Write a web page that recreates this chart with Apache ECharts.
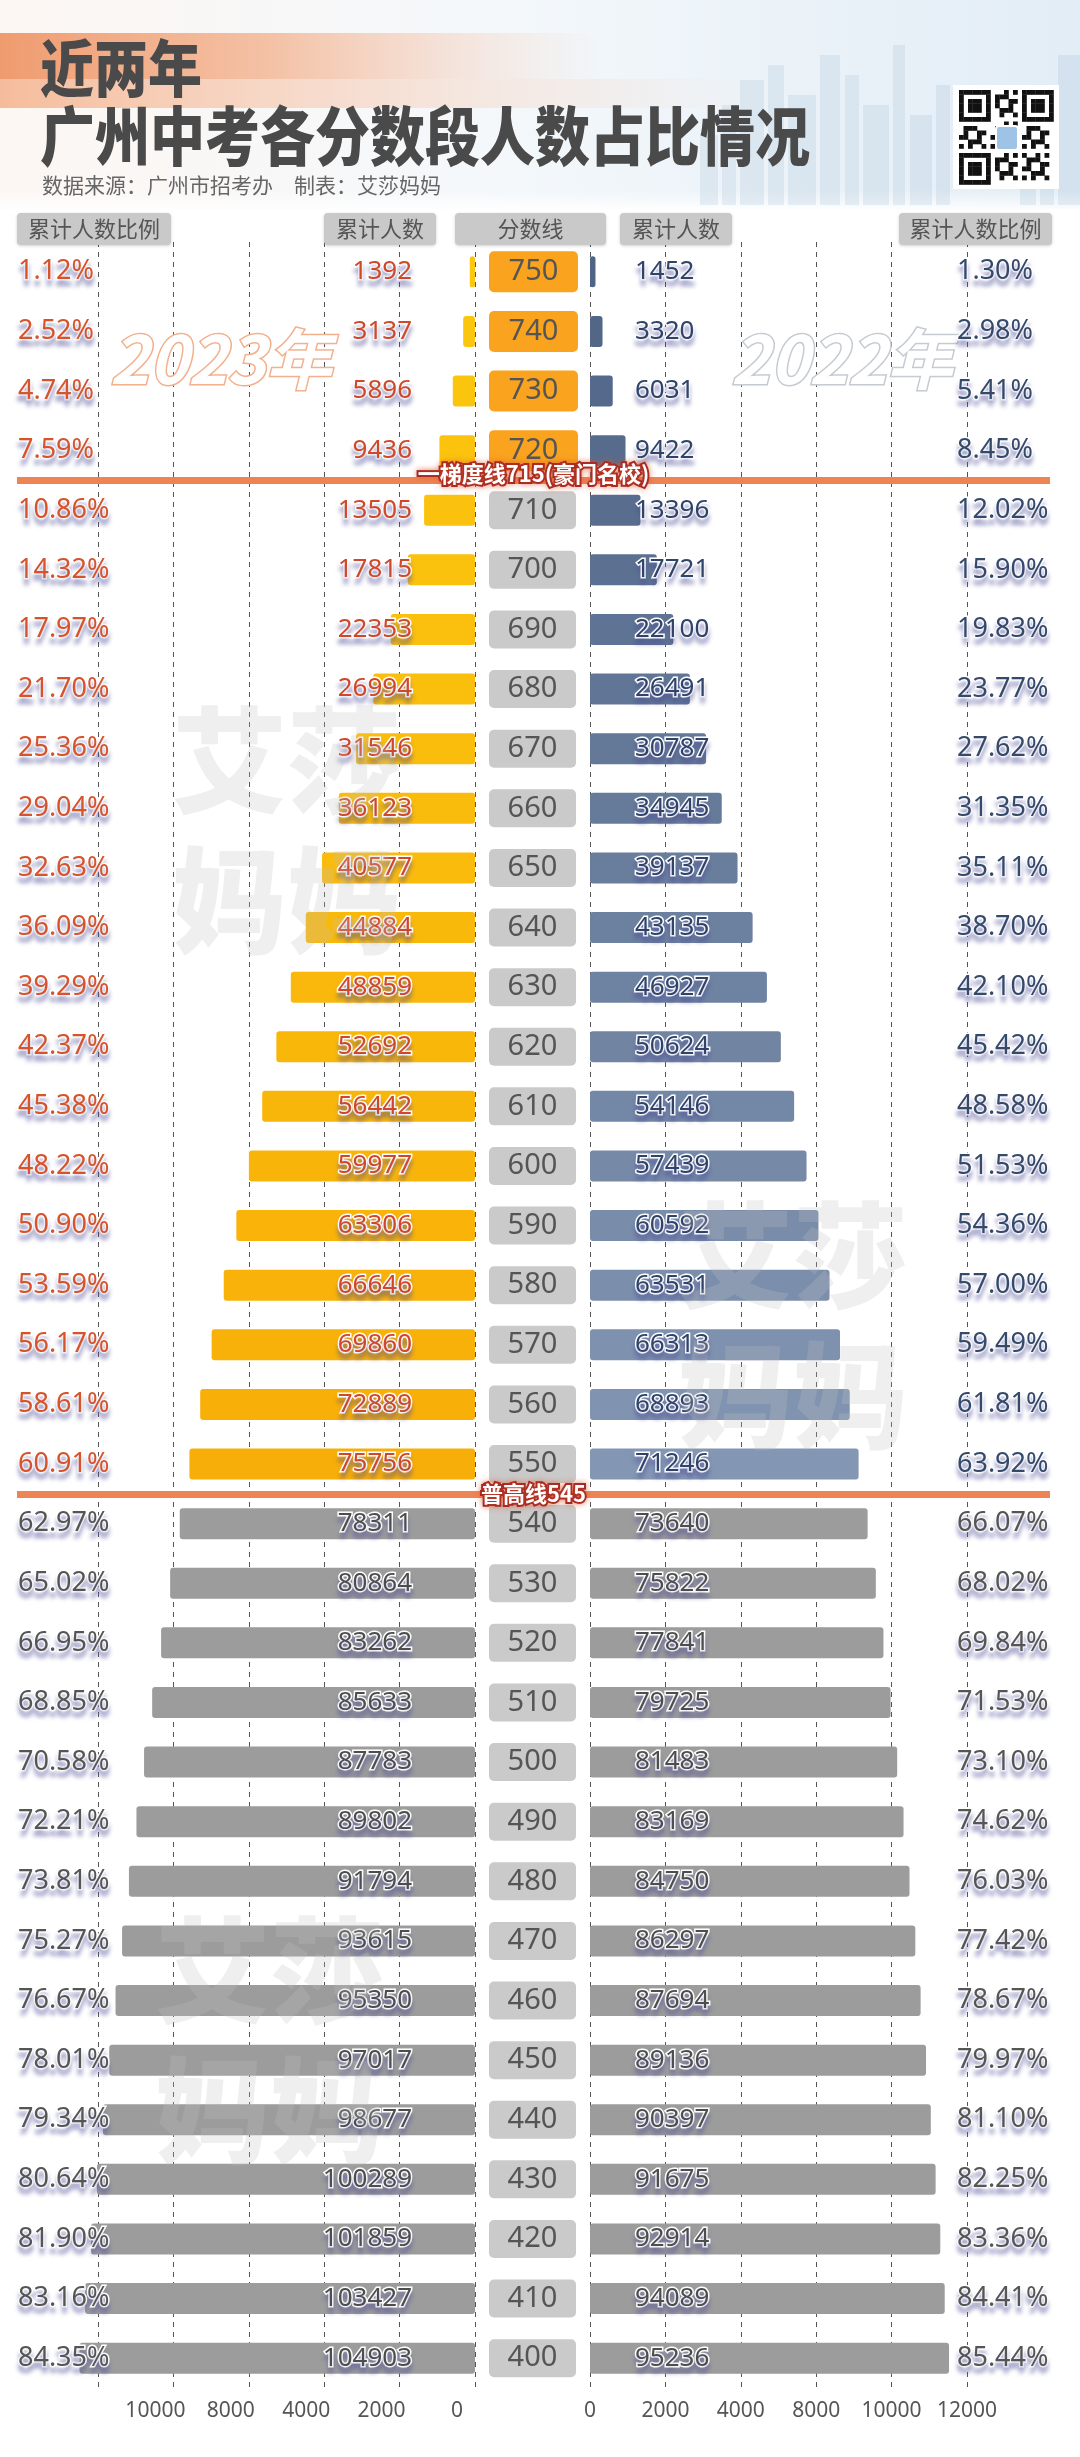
<!DOCTYPE html>
<html><head><meta charset="utf-8">
<script src="https://cdn.jsdelivr.net/npm/echarts@6/dist/echarts.min.js"></script>
<style>html,body{margin:0;padding:0;background:#fff;}#c{width:1080px;height:2457px;}</style>
</head><body><div id="c"></div>
<script>
// ---------------- data ----------------
const scores = [750,740,730,720,710,700,690,680,670,660,650,640,630,620,610,600,590,580,570,560,550,540,530,520,510,500,490,480,470,460,450,440,430,420,410,400];
const count2023 = [1392,3137,5896,9436,13505,17815,22353,26994,31546,36123,40577,44884,48859,52692,56442,59977,63306,66646,69860,72889,75756,78311,80864,83262,85633,87783,89802,91794,93615,95350,97017,98677,100289,101859,103427,104903];
const pct2023 = ['1.12%','2.52%','4.74%','7.59%','10.86%','14.32%','17.97%','21.70%','25.36%','29.04%','32.63%','36.09%','39.29%','42.37%','45.38%','48.22%','50.90%','53.59%','56.17%','58.61%','60.91%','62.97%','65.02%','66.95%','68.85%','70.58%','72.21%','73.81%','75.27%','76.67%','78.01%','79.34%','80.64%','81.90%','83.16%','84.35%'];
const count2022 = [1452,3320,6031,9422,13396,17721,22100,26491,30787,34945,39137,43135,46927,50624,54146,57439,60592,63531,66313,68893,71246,73640,75822,77841,79725,81483,83169,84750,86297,87694,89136,90397,91675,92914,94089,95236];
const pct2022 = ['1.30%','2.98%','5.41%','8.45%','12.02%','15.90%','19.83%','23.77%','27.62%','31.35%','35.11%','38.70%','42.10%','45.42%','48.58%','51.53%','54.36%','57.00%','59.49%','61.81%','63.92%','66.07%','68.02%','69.84%','71.53%','73.10%','74.62%','76.03%','77.42%','78.67%','79.97%','81.10%','82.25%','83.36%','84.41%','85.44%'];
const mainLineScores = [715, 545];
const mainLineNames = ['一梯度线715(豪门名校)', '普高线545'];
const tierScores = [675, 635, 595, 555];
const tierNames = ['第二梯度线675', '第三梯度线635', '第四梯度线595', '第五梯度线555'];
const leftTickLabels = ['0', '2000', '4000', '8000', '10000', ''];
const rightTickLabels = ['0', '2000', '4000', '8000', '10000', '12000'];
const headerLabels = ['累计人数比例', '累计人数', '分数线', '累计人数', '累计人数比例'];

// ---------------- styling helpers ----------------
const NUM_FONT = "'Noto Sans', 'Noto Sans CJK SC', sans-serif";
const CJK_FONT = "'Noto Sans CJK SC', 'Noto Sans', sans-serif";
const eliteLine = mainLineScores[0];
const passLine = mainLineScores[1];
const nColored = scores.filter(s => s > passLine).length;
function hex(c){return [parseInt(c.slice(1,3),16),parseInt(c.slice(3,5),16),parseInt(c.slice(5,7),16)];}
function lerp(a,b,t){const A=hex(a),B=hex(b);return 'rgb('+A.map((v,k)=>Math.round(v+(B[k]-v)*t)).join(',')+')';}
const GRAY = '#9C9C9C';
const txtFx = {textBorderColor:'#fff', textBorderWidth:3, textShadowColor:'rgba(70,70,150,0.32)', textShadowBlur:4, textShadowOffsetY:6};

const leftData = count2023.map((v,i)=>{
  const on = scores[i] > passLine;
  const t = i/(nColored-1);
  return {value:v, itemStyle:{color: on ? lerp('#FBC70F','#F8AE08',t) : GRAY}, label:{color: on ? '#D0482A' : '#4d4d4d'}};
});
const rightData = count2022.map((v,i)=>{
  const on = scores[i] > passLine;
  const t = i/(nColored-1);
  return {value:v, itemStyle:{color: on ? lerp('#4F6486','#8396B3',t) : GRAY}, label:{color: on ? '#2F4468' : '#4d4d4d'}};
});

const GRID_TOP = 242, GRID_H = 2146;
const splitLine = {show:true, lineStyle:{color:'#555', width:1, type:[5,5]}};
const pctRich = {
  o: Object.assign({color:'#D6532B', fontSize:27, fontFamily:NUM_FONT}, txtFx),
  b: Object.assign({color:'#35496B', fontSize:27, fontFamily:NUM_FONT}, txtFx),
  g: Object.assign({color:'#555', fontSize:27, fontFamily:NUM_FONT}, txtFx)
};
const scoreCats = scores.map(String);

// ---------------- graphics (header, decor) ----------------
const graphics = [];
graphics.push({type:'rect', x:0, y:0, z:-10, shape:{width:1080, height:210},
  style:{fill:{type:'linear', x:0, y:0, x2:1, y2:0, colorStops:[{offset:0,color:'#fdf7f3'},{offset:0.45,color:'#f4f8fb'},{offset:1,color:'#e2edf6'}]}}});
graphics.push({type:'rect', x:0, y:190, z:-9, shape:{width:1080, height:22},
  style:{fill:{type:'linear', x:0, y:0, x2:0, y2:1, colorStops:[{offset:0,color:'rgba(255,255,255,0)'},{offset:1,color:'#fff'}]}}});
// orange bands
graphics.push({type:'rect', x:0, y:33, z:-8, shape:{width:600, height:46},
  style:{fill:{type:'linear', x:0, y:0, x2:1, y2:0, colorStops:[{offset:0,color:'rgba(239,150,104,0.95)'},{offset:0.45,color:'rgba(242,170,130,0.7)'},{offset:1,color:'rgba(245,190,160,0)'}]}}});
graphics.push({type:'rect', x:0, y:79, z:-8, shape:{width:760, height:29},
  style:{fill:{type:'linear', x:0, y:0, x2:1, y2:0, colorStops:[{offset:0,color:'rgba(244,178,140,0.85)'},{offset:0.5,color:'rgba(246,200,175,0.5)'},{offset:1,color:'rgba(246,210,190,0)'}]}}});
// skyline
[[700,18,70],[722,14,100],[740,24,125],[768,16,140],[788,28,110],[820,20,150],[845,14,130],[863,26,100],[893,12,160],[910,22,90],[936,14,120],[1058,22,150],[1040,14,110],[1020,16,80]].forEach(b=>{
  graphics.push({type:'rect', x:b[0], y:205-b[2], z:-7, shape:{width:b[1], height:b[2]}, style:{fill:'rgba(160,185,208,0.22)'}});
});
// QR code decor
graphics.push({type:'rect', x:953, y:85, z:-5, shape:{width:106, height:104}, style:{fill:'#fff'}});
(function(){
  const N=21, s=4.5, ox=959, oy=90;
  const finder=(r,c)=>{
    const inF=(r0,c0)=>r>=r0&&r<r0+7&&c>=c0&&c<c0+7;
    let f=null;[[0,0],[0,14],[14,0]].forEach(([r0,c0])=>{ if(inF(r0,c0)){const rr=r-r0,cc=c-c0; f=(rr===0||rr===6||cc===0||cc===6||(rr>=2&&rr<=4&&cc>=2&&cc<=4));}});
    return f;
  };
  for(let r=0;r<N;r++)for(let c=0;c<N;c++){
    let on=finder(r,c);
    if(on===null){ if((r<8&&c<8)||(r<8&&c>12)||(r>12&&c<8)) on=false; else on=((r*31+c*17+r*c*3)%7)<3; }
    if(on) graphics.push({type:'rect', x:ox+c*s, y:oy+r*s, z:-4, shape:{width:s+0.3, height:s+0.3}, style:{fill:'#111'}});
  }
  graphics.push({type:'rect', x:996, y:126, z:-3, shape:{width:22, height:24, r:3}, style:{fill:'#9fc3e6', stroke:'#fff', lineWidth:2}});
})();
// titles
graphics.push({type:'text', x:40, y:37, scaleY:1.15, z:1, style:{text:'近两年', fontSize:54, fontWeight:900, fontFamily:CJK_FONT, fill:'#4a4a4a', verticalAlign:'top', textVerticalAlign:'top'}});
graphics.push({type:'text', x:40, y:104, scaleY:1.15, z:1, style:{text:'广州中考各分数段人数占比情况', fontSize:55, fontWeight:900, fontFamily:CJK_FONT, fill:'#4a4a4a', verticalAlign:'top', textVerticalAlign:'top'}});
graphics.push({type:'text', x:42, y:175, z:1, style:{text:'数据来源：广州市招考办　制表：艾莎妈妈', fontSize:21, fontFamily:CJK_FONT, fill:'#666', verticalAlign:'top', textVerticalAlign:'top'}});
// header pills
const pillBoxes = [[17,154],[324,112],[455,151],[620,112],[899,153]];
headerLabels.forEach((t,k)=>{
  const [x,w]=pillBoxes[k];
  graphics.push({type:'rect', x:x, y:213, z:1, shape:{width:w, height:32, r:4}, style:{fill:'#C9C9C9', shadowBlur:3, shadowColor:'rgba(0,0,0,0.18)', shadowOffsetY:1}});
  graphics.push({type:'text', x:x+w/2, y:229, z:2, style:{text:t, fontSize:22, fontFamily:CJK_FONT, fill:'#555', align:'center', verticalAlign:'middle', textAlign:'center', textVerticalAlign:'middle'}});
});
// year watermarks
graphics.push({type:'text', x:110, y:326, z:1, style:{text:'2023年', fontSize:66, fontStyle:'italic', fontWeight:'bold', fontFamily:CJK_FONT, fill:'#fff', stroke:'#F2B08C', lineWidth:3, shadowBlur:4, shadowColor:'rgba(200,120,80,0.35)', shadowOffsetY:3, verticalAlign:'top', textVerticalAlign:'top'}});
graphics.push({type:'text', x:731, y:326, z:1, style:{text:'2022年', fontSize:66, fontStyle:'italic', fontWeight:'bold', fontFamily:CJK_FONT, fill:'#fff', stroke:'#C6CAD1', lineWidth:3, shadowBlur:4, shadowColor:'rgba(120,120,140,0.35)', shadowOffsetY:3, verticalAlign:'top', textVerticalAlign:'top'}});
// author watermarks
[[172,690],[678,1185],[155,1900]].forEach(p=>{
  graphics.push({type:'text', x:p[0], y:p[1], z:5, silent:true, style:{text:'艾莎\n妈妈', fontSize:115, lineHeight:140, fontWeight:900, fontFamily:CJK_FONT, fill:'rgba(190,190,190,0.25)', verticalAlign:'top', textVerticalAlign:'top'}});
});

// ---------------- chart ----------------
const chart = echarts.init(document.getElementById('c'), null, {renderer:'canvas', width:1080, height:2457});
const barLabel = Object.assign({show:true, fontSize:26, fontFamily:NUM_FONT, formatter:'{c}'}, txtFx);

chart.setOption({
  animation:false,
  backgroundColor:'#fff',
  graphic: graphics,
  grid:[
    {left:98, top:GRID_TOP, width:377, height:GRID_H, outerBoundsMode:'none', containLabel:false},
    {left:590, top:GRID_TOP, width:377, height:GRID_H, outerBoundsMode:'none', containLabel:false},
    {left:17, top:GRID_TOP, width:1033, height:GRID_H, outerBoundsMode:'none', containLabel:false}
  ],
  xAxis:[
    {gridIndex:0, type:'value', min:0, max:100000, interval:20000, inverse:true,
     axisLine:{show:false}, axisTick:{show:false}, splitLine:splitLine,
     axisLabel:{margin:13, fontSize:21, color:'#555', fontFamily:NUM_FONT, padding:[0,36,0,0],
       formatter:v=>leftTickLabels[Math.round(v/20000)] || ''}},
    {gridIndex:1, type:'value', min:0, max:100000, interval:20000,
     axisLine:{show:false}, axisTick:{show:false}, splitLine:splitLine,
     axisLabel:{margin:13, fontSize:21, color:'#555', fontFamily:NUM_FONT,
       formatter:v=>rightTickLabels[Math.round(v/20000)] || ''}},
    {gridIndex:2, type:'value', min:0, max:1, show:false}
  ],
  yAxis:[
    {gridIndex:0, type:'category', data:scoreCats, inverse:true, position:'right',
     axisLine:{show:false}, axisTick:{show:false}, splitLine:{show:false},
     axisLabel:{interval:0, margin:14, align:'left',
       formatter:(v,i)=> (scores[i] > eliteLine ? '{o|' : '{g|') + v + '}',
       rich:{
         o:{backgroundColor:'#F9A31F', color:'#555', fontSize:29, fontFamily:NUM_FONT, width:89, height:41, lineHeight:41, align:'center', borderRadius:5},
         g:{backgroundColor:'#CACACA', color:'#555', fontSize:29, fontFamily:NUM_FONT, width:87, height:38, lineHeight:38, align:'center', borderRadius:5}
       }}},
    {gridIndex:0, type:'category', data:scoreCats, inverse:true, position:'left', z:6,
     axisLine:{show:false}, axisTick:{show:false}, splitLine:{show:false},
     axisLabel:{interval:0, margin:80, align:'left',
       formatter:(v,i)=> (scores[i] > passLine ? '{o|' : '{g|') + pct2023[i] + '}', rich:pctRich}},
    {gridIndex:1, type:'category', data:scoreCats, inverse:true, position:'left',
     axisLine:{show:false}, axisTick:{show:false}, splitLine:{show:false}, axisLabel:{show:false}},
    {gridIndex:1, type:'category', data:scoreCats, inverse:true, position:'right', z:6,
     axisLine:{show:false}, axisTick:{show:false}, splitLine:{show:false},
     axisLabel:{interval:0, margin:-10, align:'left',
       formatter:(v,i)=> (scores[i] > passLine ? '{b|' : '{g|') + pct2022[i] + '}', rich:pctRich}},
    {gridIndex:2, type:'value', min:395, max:755, show:false}
  ],
  series:[
    {type:'bar', name:'2023', xAxisIndex:0, yAxisIndex:0, data:leftData, barWidth:31, clip:false,
     itemStyle:{borderRadius:3},
     label:Object.assign({}, barLabel, {position:'insideRight', distance:63})},
    {type:'bar', name:'2022', xAxisIndex:1, yAxisIndex:2, data:rightData, barWidth:31, clip:false,
     itemStyle:{borderRadius:3},
     label:Object.assign({}, barLabel, {position:'insideLeft', distance:45})},
    {type:'scatter', xAxisIndex:2, yAxisIndex:4, data:[], z:10, silent:true,
     markLine:{
       silent:true, symbol:['none','none'], animation:false,
       data: mainLineScores.map((s,k)=>({
         yAxis:s, name:mainLineNames[k],
         lineStyle:{color:'#EE8454', width:7, type:'solid', opacity:1},
         label:{show:true, formatter:'{b}', position: k===0 ? 'insideMiddleTop' : 'insideMiddle', distance: k===0 ? -4 : 0,
           color:'#fff', fontSize:22, fontWeight:'bold', fontFamily:CJK_FONT,
           textBorderColor:'#A3241F', textBorderWidth:4, textShadowColor:'rgba(220,90,50,0.6)', textShadowBlur:6}
       })).concat(tierScores.map((s,k)=>({
         yAxis:s, name:tierNames[k],
         lineStyle:{color:'rgba(0,0,0,0)', width:0, opacity:0},
         label:{show:true, formatter:'{b}', position:'insideMiddle', distance:0,
           color:'#fff', fontSize:21, fontWeight:'bold', fontFamily:CJK_FONT,
           backgroundColor:'#EE8A59', padding:[2,7,1,7], borderRadius:4}
       })))
     }}
  ]
});
</script>
</body></html>
